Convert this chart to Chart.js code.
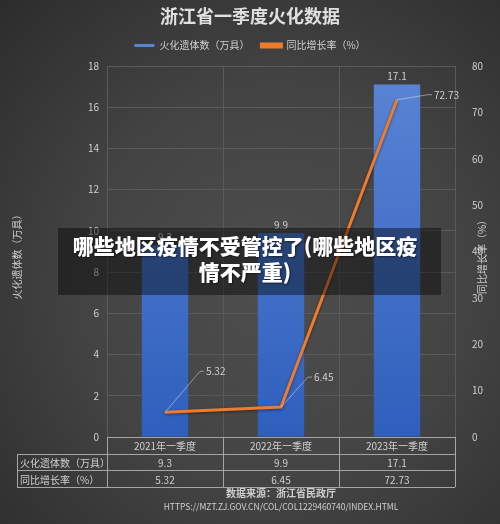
<!DOCTYPE html>
<html>
<head>
<meta charset="utf-8">
<script src="https://cdn.jsdelivr.net/npm/chart.js@4.4.0/dist/chart.umd.min.js"></script>
<style>
  html, body { margin: 0; padding: 0; background: #2e2e2e; }
  #wrap {
    position: relative; width: 500px; height: 524px;
    background: radial-gradient(ellipse at 55% 55%, #4e4e4e 0%, #434343 50%, #2c2c2c 100%);
  }
  #banner {
    position: absolute; left: 58px; top: 228px; width: 383px; height: 67px;
    background: rgba(0, 0, 0, 0.42); color: #fff; box-sizing: border-box; padding: 4px 9px 0 0;
    font: 900 21px "Noto Sans CJK SC", sans-serif; line-height: 26px; text-align: center;
    text-shadow: 1px 1px 2px rgba(0,0,0,0.5);
  }
</style>
</head>
<body>
<div id="wrap">
  <canvas id="chart" width="500" height="524"></canvas>
  <div id="banner">哪些地区疫情不受管控了(哪些地区疫<br>情不严重)</div>
</div>
<script>
// dados do gráfico
const chartTitle = '浙江省一季度火化数据';
const categories = ['2021年一季度', '2022年一季度', '2023年一季度'];
const seriesNames = ['火化遗体数（万具）', '同比增长率（%）'];
const cremations = [9.3, 9.9, 17.1];   // 万具
const growthRate = [5.32, 6.45, 72.73]; // %
const leftAxis = { max: 18, step: 2 };
const rightAxis = { max: 80, step: 10 };
const sourceText = '数据来源：浙江省民政厅';
const urlText = 'HTTPS://MZT.ZJ.GOV.CN/COL/COL1229460740/INDEX.HTML';

const FONT = '"Noto Sans CJK SC", sans-serif';
const gridColor = '#5a5a5a';
const textColor = '#cfcfcf';

// espaço extra abaixo da legenda
const legendGap = {
    id: 'legendGap',
    beforeLayout(chart) {
        const lg = chart.legend;
        if (lg && !lg._gapPatched) {
            const fit = lg.fit;
            lg.fit = function () { fit.call(this); this.height += 5.4; };
            lg._gapPatched = true;
        }
    }
};

// sombra da linha
const lineShadow = {
    id: 'lineShadow',
    beforeDatasetDraw(chart, args) {
        if (args.index !== 1) return;
        const c = chart.ctx;
        c.save();
        c.shadowColor = 'rgba(0,0,0,0.45)';
        c.shadowBlur = 3;
        c.shadowOffsetY = 1;
    },
    afterDatasetDraw(chart, args) {
        if (args.index === 1) chart.ctx.restore();
    }
};

// rótulos de valores + linhas de chamada
const valueLabels = {
    id: 'valueLabels',
    afterDatasetsDraw(chart) {
        const ctx = chart.ctx;
        ctx.save();
        ctx.font = '10px ' + FONT;
        ctx.fillStyle = textColor;
        ctx.textAlign = 'center';
        ctx.textBaseline = 'bottom';
        chart.getDatasetMeta(0).data.forEach((bar, i) => {
            ctx.fillText(String(cremations[i]), bar.x, bar.y - 3);
        });
        const elbows = [[35, -41], [27, -30], [31, -5]];
        chart.getDatasetMeta(1).data.forEach((pt, i) => {
            const [dx, dy] = elbows[i];
            ctx.strokeStyle = 'rgba(225,225,225,0.65)';
            ctx.lineWidth = 0.8;
            ctx.beginPath();
            ctx.moveTo(pt.x, pt.y);
            ctx.lineTo(pt.x + dx, pt.y + dy);
            ctx.lineTo(pt.x + dx + 4, pt.y + dy);
            ctx.stroke();
            ctx.textAlign = 'left';
            ctx.textBaseline = 'middle';
            ctx.fillText(String(growthRate[i]), pt.x + dx + 6, pt.y + dy);
        });
        ctx.restore();
    }
};

// tabela de dados, títulos dos eixos e fonte
const dataTable = {
    id: 'dataTable',
    afterDraw(chart) {
        const ctx = chart.ctx;
        const x = chart.scales.x;
        const area = chart.chartArea;
        const colW = x.width / categories.length;
        const top = area.bottom, rowH = 16.7, labelLeft = 17;
        ctx.save();
        ctx.strokeStyle = '#a5a5a5';
        ctx.lineWidth = 1;
        ctx.beginPath();
        ctx.moveTo(x.left, top + 0.5); ctx.lineTo(x.right, top + 0.5);
        for (let r = 1; r <= 3; r++) {
            const y = Math.round(top + r * rowH) + 0.5;
            ctx.moveTo(labelLeft, y); ctx.lineTo(x.right, y);
        }
        for (let c = 0; c <= categories.length; c++) {
            const xx = Math.round(x.left + c * colW) + 0.5;
            ctx.moveTo(xx, top); ctx.lineTo(xx, top + 3 * rowH);
        }
        ctx.moveTo(labelLeft + 0.5, Math.round(top + rowH)); ctx.lineTo(labelLeft + 0.5, top + 3 * rowH);
        ctx.stroke();

        ctx.fillStyle = textColor;
        ctx.font = '10px ' + FONT;
        ctx.textBaseline = 'middle';
        const rows = [cremations, growthRate];
        categories.forEach((cat, i) => {
            const cx = x.getPixelForValue(i);
            ctx.textAlign = 'center';
            ctx.fillText(cat, cx, top + rowH / 2 + 1);
            rows.forEach((vals, r) => ctx.fillText(String(vals[i]), cx, top + (r + 1.5) * rowH + 1));
        });
        ctx.textAlign = 'left';
        seriesNames.forEach((n, r) => ctx.fillText(n, labelLeft + 3, top + (r + 1.5) * rowH + 1));

        const midX = (area.left + area.right) / 2;
        ctx.textAlign = 'center';
        ctx.font = 'bold 10px ' + FONT;
        ctx.fillText(sourceText, midX, 493);
        ctx.font = '8.5px ' + FONT;
        ctx.fillText(urlText, midX, 507);

        // títulos dos eixos
        const midY = (area.top + area.bottom) / 2;
        ctx.font = '10px ' + FONT;
        [[17, seriesNames[0]], [482, seriesNames[1]]].forEach(([tx, t]) => {
            ctx.save();
            ctx.translate(tx, midY + 3);
            ctx.rotate(-Math.PI / 2);
            ctx.fillText(t, 0, 0);
            ctx.restore();
        });
        ctx.restore();
    }
};

const ctx = document.getElementById('chart').getContext('2d');
const barGrad = ctx.createLinearGradient(0, 66, 0, 437);
barGrad.addColorStop(0, '#5a85d5');
barGrad.addColorStop(1, '#2f5fbd');

new Chart(ctx, {
    type: 'bar',
    data: {
        labels: categories,
        datasets: [{
            label: seriesNames[0],
            data: cremations,
            backgroundColor: barGrad,
            borderWidth: 0,
            barPercentage: 0.4,
            categoryPercentage: 1,
            yAxisID: 'y',
            order: 1
        }, {
            type: 'line',
            label: seriesNames[1],
            data: growthRate,
            borderColor: '#ee7b2e',
            backgroundColor: '#ee7b2e',
            borderWidth: 3,
            pointRadius: 0,
            tension: 0,
            yAxisID: 'y2',
            order: 0
        }]
    },
    options: {
        responsive: false,
        animation: false,
        layout: { padding: 0 },
        plugins: {
            title: {
                display: true,
                text: chartTitle,
                color: '#e0e0e0',
                font: { family: FONT, size: 18, weight: 'bold' },
                padding: { top: 5, bottom: 2 }
            },
            legend: {
                display: true,
                labels: {
                    color: textColor,
                    font: { family: FONT, size: 10 },
                    boxWidth: 20,
                    boxHeight: 3,
                    padding: 12,
                    sort: (a, b) => a.datasetIndex - b.datasetIndex
                }
            },
            tooltip: { enabled: false }
        },
        scales: {
            x: {
                grid: { color: gridColor, offset: true, drawTicks: false },
                border: { display: false },
                ticks: { display: false },
                afterFit: s => { s.height = 87; }
            },
            y: {
                position: 'left',
                min: 0, max: leftAxis.max,
                ticks: { stepSize: leftAxis.step, color: textColor, font: { family: FONT, size: 10 }, padding: 8 },
                grid: { color: gridColor, drawTicks: false },
                border: { display: false },
                afterFit: s => { s.width = 107; }
            },
            y2: {
                position: 'right',
                min: 0, max: rightAxis.max,
                ticks: { stepSize: rightAxis.step, color: textColor, font: { family: FONT, size: 10 }, padding: 9 },
                grid: { display: false },
                border: { display: false },
                afterFit: s => { s.width = 45; }
            }
        }
    },
    plugins: [legendGap, lineShadow, valueLabels, dataTable]
});
</script>
</body>
</html>
